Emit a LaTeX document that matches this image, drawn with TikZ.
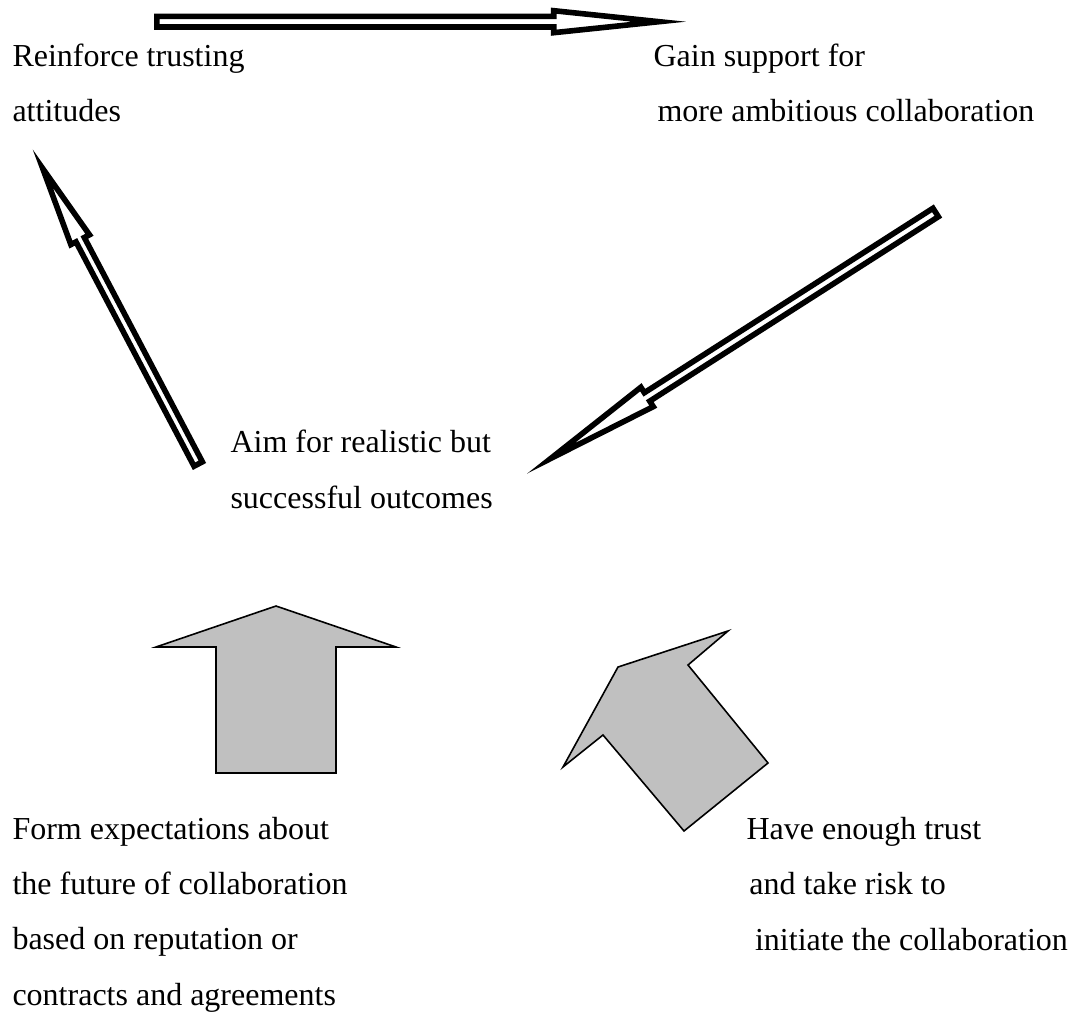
\documentclass[tikz,border=0pt]{standalone}
\usepackage{fontspec}
\setmainfont{Liberation Serif}
\usepackage{xcolor}
\usepackage{tikz}
\definecolor{arrowgray}{RGB}{192,192,192}
\tikzstyle{hollow} = [draw=black, line width=2.1pt, fill=white, miter limit=25]
\tikzstyle{grayarrow} = [draw=black, line width=0.6pt, fill=arrowgray, line join=miter]
\tikzstyle{txt} = [anchor=base west, align=left, inner sep=0pt, font=\fontsize{12}{20.7}\selectfont]
% open block arrow along +x: tip, head base, shaft half width, head half width
\newcommand{\hollowarrow}[4]{%
  \draw[hollow] (2.8,-#3) -- (#2,-#3) -- (#2,-#4) -- (#1,0) -- (#2,#4) -- (#2,#3) -- (2.8,#3) -- cycle;}

\begin{document}
\begin{tikzpicture}[x=0.375pt, y=-0.375pt]
    \useasboundingbox (0,0) rectangle (1068,1012);

    % text blocks, anchored at the baseline of their last line
    \node[txt] (trust) at (12,121.7) {Reinforce trusting\\attitudes};
    \node[txt] (support) at (653,121.7) {Gain support for\\\hspace*{1.5pt}more ambitious collaboration};
    \node[txt] (aim) at (230,508) {Aim for realistic but\\successful outcomes};
    \node[txt] (expect) at (12,1005) {Form expectations about\\the future of collaboration\\based on reputation or\\contracts and agreements};
    \node[txt] (risk) at (746,950) {Have enough trust\\\hspace*{1.1pt}and take risk to\\\hspace*{3.2pt}initiate the collaboration};

    % open arrows of the loop
    \begin{scope}[shift={(154,21.7)}]
        \hollowarrow{505}{399.7}{5.3}{11}
    \end{scope}
    \begin{scope}[shift={(938,211)}, rotate=212.58]
        \hollowarrow{459.6}{345.3}{5}{11.5}
    \end{scope}
    \begin{scope}[shift={(199.5,466.5)}, rotate=117.75]
        \hollowarrow{336.6}{256.3}{4.7}{10.5}
    \end{scope}

    % grey arrows
    \filldraw[grayarrow] (276,606) -- (396,647) -- (336,647) -- (336,773) -- (216,773) -- (216,647) -- (156,647) -- cycle;
    \filldraw[grayarrow] (618,667) -- (563,767) -- (603,735) -- (684,831) -- (768,763) -- (688,665) -- (728,631) -- cycle;
\end{tikzpicture}
\end{document}
